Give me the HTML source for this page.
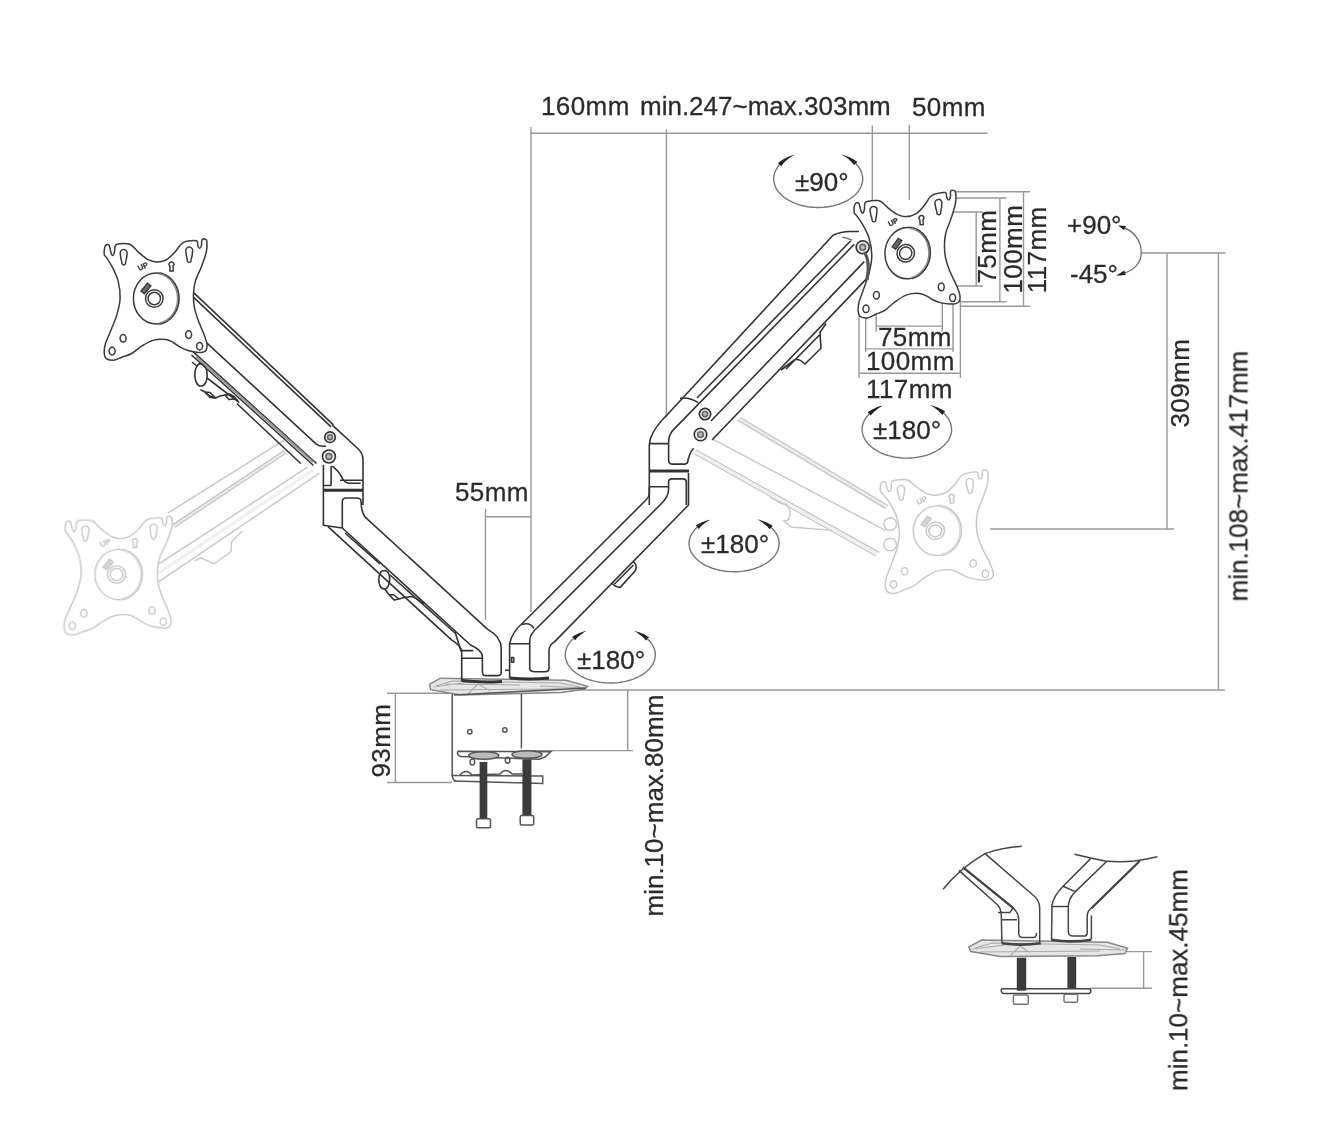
<!DOCTYPE html>
<html><head><meta charset="utf-8">
<style>
html,body{margin:0;padding:0;background:#fff;}
svg{display:block;}
text{font-family:"Liberation Sans",sans-serif;fill:#2a2a2a;}
</style></head>
<body>
<svg width="1332" height="1144" viewBox="0 0 1332 1144">
<defs><filter id="blr" x="0" y="0" width="1332" height="1144" filterUnits="userSpaceOnUse"><feGaussianBlur stdDeviation="0.65"/></filter><g id="plate"><path d="M9.2 24.5 C9.0 22.8 9.4 18.8 9.8 17.1 C10.2 15.5 10.9 15.0 11.6 14.7 C12.3 14.4 13.5 14.5 14.1 15.3 C14.7 16.1 14.9 18.0 15.3 19.6 C15.7 21.1 16.0 23.5 16.5 24.5 C17.0 25.4 17.8 25.6 18.3 25.1 C18.9 24.6 19.3 22.9 19.6 21.4 C19.9 19.9 19.7 17.1 20.2 15.9 C20.7 14.7 20.7 14.4 22.6 14.1 C24.6 13.7 29.5 13.5 31.8 13.7 C34.1 13.9 34.7 13.8 36.7 15.3 C38.7 16.8 41.4 20.3 44.0 22.6 C46.7 25.0 49.7 27.8 52.6 29.4 C55.5 30.9 58.1 31.9 61.2 32.0 C64.2 32.2 67.9 31.5 70.9 30.0 C74.0 28.4 77.1 25.2 79.5 22.6 C82.0 20.1 83.8 16.5 85.6 14.7 C87.5 12.8 87.9 12.3 90.5 11.6 C93.2 11.0 99.5 10.1 101.5 10.8 C103.6 11.5 102.2 14.6 102.8 15.9 C103.3 17.2 104.0 18.3 104.6 18.3 C105.2 18.3 106.0 17.3 106.4 15.9 C106.8 14.5 106.4 10.9 107.0 9.8 C107.6 8.7 109.3 8.9 110.1 9.2 C110.9 9.5 111.7 9.5 111.9 11.6 C112.1 13.8 112.2 17.8 111.3 22.0 C110.4 26.2 108.3 31.8 106.4 36.7 C104.6 41.6 101.6 46.9 100.3 51.4 C99.0 55.9 98.7 59.5 98.5 63.6 C98.3 67.7 98.4 71.6 99.1 75.8 C99.8 80.1 101.1 84.6 102.8 89.3 C104.4 94.0 107.3 99.9 108.9 104.0 C110.4 108.1 111.5 111.1 111.9 113.8 C112.3 116.4 112.0 118.5 111.3 119.9 C110.6 121.3 109.3 121.9 107.6 122.3 C106.0 122.7 104.0 122.6 101.5 122.3 C99.1 122.0 95.6 121.3 93.0 120.5 C90.3 119.7 88.1 118.8 85.6 117.4 C83.2 116.1 80.7 113.9 78.3 112.5 C75.8 111.2 74.2 109.9 70.9 109.5 C67.7 109.1 62.8 109.0 58.7 110.1 C54.6 111.2 50.2 114.0 46.5 116.2 C42.8 118.5 40.0 121.7 36.7 123.5 C33.4 125.4 30.0 126.1 26.9 127.2 C23.9 128.3 21.0 130.1 18.3 130.3 C15.7 130.5 12.5 129.8 11.0 128.4 C9.5 127.1 9.3 124.8 9.2 122.3 C9.1 119.9 9.3 117.4 10.4 113.8 C11.5 110.1 14.0 105.2 15.9 100.3 C17.8 95.4 20.5 89.7 22.0 84.4 C23.5 79.1 24.9 74.0 25.1 68.5 C25.3 63.0 24.6 56.7 23.2 51.4 C21.9 46.1 19.2 40.8 17.1 36.7 C15.1 32.6 12.3 29.0 11.0 26.9 C9.7 24.9 9.4 26.1 9.2 24.5Z"/><path d="M25.3 23.9 A3.5 3.5 0 1 1 32.1 23.9 Q31.9 27.9 30.5 32.4 A1.9 1.9 0 1 1 26.9 32.4 Q25.5 27.9 25.3 23.9Z M90.8 21.4 A3.5 3.5 0 1 1 97.6 21.4 Q97.4 25.4 96.0 29.9 A1.9 1.9 0 1 1 92.4 29.9 Q91.0 25.4 90.8 21.4Z"/><ellipse cx="28.1" cy="108.3" rx="3" ry="3.8"/><ellipse cx="17.1" cy="121.1" rx="3" ry="3.8"/><ellipse cx="93.6" cy="104.6" rx="3" ry="3.8"/><ellipse cx="104.6" cy="116.2" rx="3" ry="3.8"/><path d="M76.5 32.0 a2.6 2.6 0 0 1 2.6 2.6 l-1 1.5 v5 h-3.2 v-5 l-1 -1.5 a2.6 2.6 0 0 1 2.6 -2.6z"/><ellipse cx="61.2" cy="68.5" rx="22.8" ry="25.6"/><path d="M64.2 43.2 A22.5 25.6 0 0 1 64.2 93.8" stroke-width="2.8" stroke-opacity="0.6"/><circle cx="59.3" cy="68.5" r="8.8"/><circle cx="59.3" cy="68.5" r="6.2"/><path d="M45.9 61.2 l6.5 -8 l3.5 2.6 l-6.5 8z" stroke-width="1.4" style="fill:currentColor" fill-opacity="0.75"/><text x="0" y="0" transform="translate(44.3 41.0) rotate(-25)" font-size="7.5" font-weight="bold" style="fill:currentColor;stroke:currentColor;stroke-width:0.3">UP</text></g></defs>
<g filter="url(#blr)">
<g id="dim" stroke="#999" stroke-width="1.4" fill="none">
<path d="M530 133.3H987.5 M531 127V612 M666.4 129V417.5 M872.3 125.6V210 M909.3 125V200"/>
<path d="M485.5 509V620 M484.6 516.8H531"/>
<path d="M1141 253H1225.5 M1167 253V529 M990 529H1174 M1218.4 253V690.5 M560 690H1225"/>
<path d="M387 693.2H452 M387 782.5H452 M395.4 693V782.5 M523.6 750.6H633.3 M627.7 690V750.6"/>
<path d="M1126 951.6H1152 M1090 988.2H1152 M1143.6 951.6V988.2"/>
<path d="M953.7 191.8H1030 M956 198H1006.6 M942.4 212H983 M1023.5 191.8V306.2 M999.9 198V301.7 M976.2 212V286 M945 286H983 M955 301.7H1006.6 M960 306.2H1030"/>
<path d="M875.5 326.1H942.8 M876.2 292.6V331.7 M942.3 285V331.7 M865.7 348.9H953.8 M865.7 300V352 M953 300V352 M858.4 373.3H961.1 M859 315.8V378 M960.4 300V378"/>
</g>

<path d="M739 419 L886.5 507 M173.5 526 L285 452" stroke="#ececec" stroke-width="5" fill="none"/><path d="M695.5 452 L877.5 554 M159 572.7 L313 470" stroke="#f0f0f0" stroke-width="3" fill="none"/><g fill="none" stroke="#c8c8c8" stroke-width="1.4"><path d="M737.3 420 L885.5 508.3 M740.5 417.5 L888 505.5"/><path d="M712.1 438.9 L885.5 530.4"/><path d="M696.3 450 L879.2 552.4 M694.7 454 L876 556"/><path d="M770.4 497.2 L781 503.5 Q789 503 790 512 Q791 521 784 521 L791 527 L831.9 530.4"/><path d="M167.8 513.2 L283.8 440.4"/><path d="M172.3 525.1 L283.8 450.8 M175 527 L286 453"/><path d="M158.9 563.8 L307.6 467.2"/><path d="M158.9 581.6 L319.4 473.1"/><path d="M242.2 531.1 L231.7 541.5 L231 551.9 L213.9 563.8 L200.5 557.8 L194.6 560.8"/><circle cx="890.2" cy="524" r="6.3"/><circle cx="890.2" cy="544.5" r="6.3"/></g>
<path d="M429.5 684.3 L440.3 678.2 L566 680.3 L587.6 686.4 L584.9 689 L561.9 692.4 L460.5 695.1 L430.8 689.7Z" fill="#e6e6e6" stroke="#888" stroke-width="1.5"/><path d="M436 686 L452 681 L560 683 L580 687 M440 690 L560 689 M468 694 L478 684 L490 691 M433 687 L470 682 M540 686 L585 688 M445 684 L520 685" fill="none" stroke="#aaa" stroke-width="1.1"/><g fill="none" stroke="#555" stroke-width="1.5"><path d="M452.2 694 V775.5 Q452.5 780 456.2 781"/><path d="M521.4 694 V748.4"/><path d="M458 751.2 L550.8 751.7 L545 757 L539.1 759.3 L460.7 756.6 Q456 755 458 751.2Z"/><path d="M451.7 775.5 L542.7 776 L542.7 783.6 L453.5 781"/><path d="M460 775 Q466 768 472 775 L500 774 Q506 767 512 774 L522 774"/><path d="M454 695 L586 688"/><ellipse cx="483.7" cy="755.5" rx="15" ry="3.8" fill="#bbb"/><ellipse cx="527" cy="754.5" rx="15" ry="3.8" fill="#bbb"/><circle cx="469.8" cy="731.8" r="2.2"/><circle cx="504.8" cy="730" r="2.2"/><ellipse cx="472.4" cy="762" rx="2.3" ry="3.0"/><ellipse cx="507.6" cy="760.2" rx="2.3" ry="3.0"/><rect x="479.6" y="762" width="7.7" height="56.8" fill="#3a3a3a" stroke="none"/><rect x="522.4" y="759.3" width="9" height="56.8" fill="#3a3a3a" stroke="none"/><rect x="476.5" y="818.8" width="14" height="9" rx="1.5" fill="#fff"/><rect x="520.2" y="815.6" width="13.5" height="9.5" rx="1.5" fill="#fff"/></g>
<path d="M968.8 946.9 L981.6 940.1 L1107.3 942.2 L1127.6 948.2 L1124.9 953.6 L1097.8 955.7 L1000.5 956.4 L970.8 951.6Z" fill="#e6e6e6" stroke="#888" stroke-width="1.5"/><path d="M975 948 L992 943 L1100 945 L1120 949 M980 952 L1100 951 M1010 956 L1020 946 L1030 953 M972 949 L1005 945 M1080 949 L1125 950" fill="none" stroke="#aaa" stroke-width="1.1"/><g fill="none" stroke="#444" stroke-width="1.5" stroke-linejoin="round"><path d="M943.1 889.3 Q960 868 985.1 853.6 Q1000 848 1021.8 846.3"/><path d="M985.1 853.6 L1032.3 894.5 Q1039.7 900 1039.7 908 L1039.7 943"/><path d="M963.1 867.3 L1013.4 908.2 Q1018.7 913 1018.7 920 L1018.7 933 Q1018.7 937.6 1023 937.6 L1033 937.6 Q1036.5 937.6 1036.5 933"/><path d="M958.9 870.4 L997.7 905 Q1001 909 1001.3 915 L1001.9 943"/><path d="M998 912.4 H1010 L1013 908 M1001.5 919.7 H1017"/><path d="M1074.6 854.2 Q1090 858 1105 861 Q1120 862.5 1134.4 861 Q1148 859 1157.5 856.8"/><path d="M1090.4 858.9 L1063.1 886.2 Q1053.6 896 1052 905 L1051.5 940"/><path d="M1107.1 861 L1074.6 892.4 Q1068.3 899 1068.3 907 L1068.3 931.3 Q1068.3 936 1072.5 936 L1085 936 Q1087.2 936 1087.2 932.3 L1087.2 915.5 Q1088 910 1091.4 908.2"/><path d="M1091.4 908.2 L1139.7 861"/><path d="M1091.4 915.5 V939 M1051.5 906.6 H1068 M1063.1 886.2 L1074.6 891.4"/><path d="M1001.9 988.8 L1089.7 988.8 Q1092 991 1089.7 993.5 L1003 993.5 Q1000 991 1001.9 988.8Z"/><path d="M963.1 867.3 L1013.4 908.2" stroke-width="2.2"/><path d="M1139.7 861 L1091.4 908.2" stroke-width="2.2"/><path d="M1001.9 943.3 Q1021 946 1040.7 943.3 M1051.5 939.7 Q1071 943 1091.4 939.7" stroke-width="2.6"/><rect x="1016.8" y="957.7" width="9.4" height="33" fill="#3a3a3a" stroke="none"/><rect x="1067.4" y="957" width="8.8" height="31" fill="#3a3a3a" stroke="none"/><rect x="1013.4" y="994.9" width="14.8" height="9.4" rx="1.5" fill="#fff" stroke="#777"/><rect x="1064" y="994.2" width="13.6" height="8.1" rx="1.5" fill="#fff" stroke="#777"/></g>
<g fill="none" stroke="#333" stroke-width="1.6" stroke-linejoin="round"><path d="M193.6 292.6 L333.4 424.8"/><path d="M193.6 297.4 L331.1 426.9"/><path d="M206.2 342.4 L316 443.9 Q320 447 326 446"/><path d="M193 351.7 L316.5 463.5"/><path d="M191.5 355 L313.5 465.5"/><path d="M236.8 403.5 L300.7 463.5"/><path d="M207 378 L239.3 402.6"/><path d="M200.3 389.6 L205 392 L210 396 L215.7 398 L220 396 L225 395 L230 394.3 L234.6 397 L238.1 401.4"/><path d="M205 392 L210 392.5 L215.7 398 L210 397.5Z M225 395 L230 394.3 L234.6 399 L229 399.5Z"/><path d="M200.9 363.6 C209 364 209.5 386 200.9 386 C193 386 192.5 364 200.9 363.6Z"/><path d="M192 362 L197 366"/><path d="M332.3 425.2 L357.3 448 Q363 453 363 460 L363 505"/><path d="M323.4 464.7 L323.4 525.2 L342.3 528"/><path d="M331.1 466 V485.5 M323.4 485.5 H331.1 M332.3 466.1 Q339 471 342.5 478.6 Q345 483.2 350 483.2 L360.7 483.2 M340 480.3 H363"/><path d="M342.3 528 L470.5 645 Q482.4 650 482.4 657.3 L482.4 671.7 Q482.4 675.6 485.8 675.6 L497.3 675.6 Q501.2 675.6 501.2 672.7 L501.2 648 Q501.2 637 487.7 629.4 L364.9 516.8 Q361.2 511 361.2 503 L361 501 Q360.7 498 357 498 L346 498 Q342.3 498 342.3 502 L342.3 528"/><path d="M328 526.6 L451.5 639.9 Q461.7 646 461.7 652 L461.7 681"/><path d="M461.7 658.3 H482.4 M454.9 631.5 L460.8 650.6 H473.3"/><path d="M345 533 L380 564 M390 575 L455 633"/><path d="M384.2 570.5 C392 570 391 589 384.2 589 C377 589 377 570.5 384.2 570.5Z M385 589.5 L389 594.5 L394 600 L399 599 L404 597.5 L413 596.5 L424 603.5 M389 594.5 L394 595 L399 599 L394 600Z"/><path d="M833 235.3 Q841 231.5 850 231.5 L859 231.5"/><path d="M833 235.3 L667 415 Q649.6 432 649.3 445 L649.3 505"/><path d="M697 398 L850.8 240.7"/><path d="M854.3 244.2 L674.3 428.9 Q668.6 434 668.6 442 L668.6 459.5 Q668.6 464.1 672 464.1 L684.5 464.1 Q688 464.1 688 460 Q690 452 693.6 448.2"/><path d="M864.3 261.6 L711 421"/><path d="M867.9 277.4 L712 440"/><path d="M680 398.2 Q690 397 698.2 402.7"/><path d="M826 323.5 L820 332.4 L821 348.2 L805 364 Q799 358 794.4 360 L781 370 M819.5 335 L786 369"/><path d="M649.3 443.6 H668.6 M649.3 486.8 H668.6"/><path d="M649.3 486.8 V494 Q649 497 646 500 L522.7 623 Q512 632 509.6 643.8 V678"/><path d="M686.3 505 V482 Q686.3 478.9 683 478.9 L672 478.9 Q668.6 478.9 668.6 482 V489.1 Q668.6 497 661 504 L537.5 627.5 Q529.7 634 529.7 641 V668.3 Q529.7 671.8 535 671.8 L545 671.8 Q549 671.8 549 668 V650.8 Q549 645 554.2 642.1 L688.5 505 V473"/><path d="M509.6 643.8 H529.7 M522 624.5 Q530 622 534 628.5"/><path d="M511.5 657.5 h2.2 v4.8 h-2.2z M505 670.2 H510"/><path d="M633.3 561.7 Q637.5 565 635.5 570.5 L620.2 587.4 Q615.5 587.5 612.1 583.3 M633.5 565 L614.5 584"/><path d="M196 356.5 L313 462" stroke="#999" stroke-width="2.2"/><path d="M323.4 490.2 H363 M461.7 680.6 Q481 683 502 681.5 M649.3 471 H689 M509.6 678 Q530 680 549 678" stroke-width="3"/><circle cx="330" cy="437.2" r="5.3" fill="#e6e6e6"/><circle cx="330" cy="437.2" r="2.4" fill="#bbb" stroke="#666"/><circle cx="328.9" cy="456.5" r="6.5" fill="#e6e6e6"/><circle cx="328.9" cy="456.5" r="2.9" fill="#bbb" stroke="#666"/><circle cx="705" cy="414.1" r="5.7" fill="#e6e6e6"/><circle cx="705" cy="414.1" r="2.6" fill="#bbb" stroke="#666"/><circle cx="700.5" cy="434.5" r="6.3" fill="#e6e6e6"/><circle cx="700.5" cy="434.5" r="2.8" fill="#bbb" stroke="#666"/><circle cx="862.7" cy="247.3" r="6.5" fill="#e6e6e6"/><circle cx="862.7" cy="247.3" r="2.9" fill="#bbb" stroke="#666"/></g>
<g fill="#fff" stroke="#c8c8c8" color="#c8c8c8" stroke-width="1.4"><use href="#plate" transform="matrix(1.03961 0.01047 -0.01121 0.98458 55.83 506.39)"/><use href="#plate" transform="matrix(1.05141 -0.06530 0.05008 0.96833 869.59 468.27)"/></g><g fill="#fff" stroke="#3a3a3a" color="#3a3a3a" stroke-width="1.5"><use href="#plate" transform="matrix(1.00000 0.00000 -0.00000 1.00000 95.00 230.00)"/><use href="#plate" transform="matrix(0.99239 -0.07026 0.04077 0.99973 844.10 188.93)"/></g>
<g id="draw"></g>

<path d="M864.5 252 Q870.5 262 867 280" fill="none" stroke="#555" stroke-width="3.2"/><path d="M842.2 237.1 Q848 238 852 240.2" fill="none" stroke="#666" stroke-width="1.2"/>
<path d="M779.6 164.7 L778.5 166.0 L777.5 167.4 L776.6 168.8 L775.8 170.2 L775.2 171.6 L774.6 173.1 L774.2 174.6 L773.9 176.1 L773.7 177.6 L773.7 179.1 L773.8 180.6 L774.0 182.1 L774.3 183.6 L774.8 185.1 L775.3 186.6 L776.0 188.0 L776.8 189.5 L777.8 190.9 L778.8 192.2 L780.0 193.5 L781.2 194.8 L782.6 196.0 L784.0 197.2 L785.6 198.4 L787.2 199.4 L789.0 200.5 L790.8 201.4 L792.7 202.3 L794.6 203.2 L796.7 203.9 L798.8 204.6 L800.9 205.3 L803.1 205.8 L805.3 206.3 L807.6 206.7 L809.9 207.0 L812.2 207.2 L814.6 207.4 L816.9 207.5 L819.3 207.5 L821.6 207.4 L824.0 207.3 L826.3 207.0 L828.6 206.7 L830.9 206.3 L833.1 205.9 L835.3 205.3 L837.4 204.7 L839.5 204.0 L841.6 203.2 L843.5 202.4 L845.4 201.5 L847.3 200.6 L849.0 199.5 L850.6 198.5 L852.2 197.3 L853.7 196.2 L855.1 194.9 L856.3 193.7 L857.5 192.3 L858.5 191.0 L859.5 189.6 L860.3 188.2 L861.0 186.7 L861.6 185.3 L862.0 183.8 L862.4 182.3 L862.6 180.8 L862.7 179.3 L862.7 177.8 L862.5 176.3 L862.2 174.8 L861.8 173.3 L861.3 171.8 L860.7 170.3 L859.9 168.9 L859.0 167.5 L858.0 166.1 L856.9 164.8 L855.7 163.5" fill="none" stroke="#777" stroke-width="1.4"/>
<path d="M781.3 166.2 L782.4 164.6 L783.7 163.1 L785.1 161.6 L786.6 160.2 L788.4 158.8 L790.2 157.4 L792.2 156.2 L794.3 155.0 L794.1 154.7 L791.8 155.4 L789.6 156.2 L787.4 157.2 L785.3 158.2 L783.3 159.3 L781.4 160.5 L779.6 161.8 L777.9 163.2Z" fill="#222"/>
<path d="M854.1 165.1 L853.0 163.7 L851.8 162.3 L850.4 160.9 L848.9 159.6 L847.3 158.3 L845.6 157.1 L843.8 155.9 L841.8 154.8 L842.0 154.6 L844.1 155.2 L846.2 155.9 L848.2 156.7 L850.2 157.6 L852.1 158.6 L853.9 159.6 L855.6 160.7 L857.3 161.9Z" fill="#222"/>
<path d="M869.2 414.0 L868.0 415.4 L866.8 416.7 L865.8 418.1 L864.9 419.6 L864.1 421.0 L863.5 422.5 L862.9 424.0 L862.5 425.5 L862.3 427.1 L862.1 428.6 L862.1 430.1 L862.2 431.7 L862.5 433.2 L862.9 434.7 L863.4 436.2 L864.0 437.7 L864.8 439.2 L865.6 440.6 L866.6 442.0 L867.7 443.4 L869.0 444.7 L870.3 446.0 L871.8 447.3 L873.3 448.4 L875.0 449.6 L876.7 450.6 L878.5 451.6 L880.4 452.6 L882.4 453.5 L884.5 454.3 L886.6 455.0 L888.8 455.7 L891.0 456.3 L893.3 456.8 L895.6 457.2 L898.0 457.5 L900.4 457.8 L902.7 458.0 L905.2 458.1 L907.6 458.1 L910.0 458.0 L912.4 457.9 L914.8 457.6 L917.1 457.3 L919.5 456.9 L921.8 456.5 L924.0 455.9 L926.2 455.3 L928.4 454.6 L930.5 453.8 L932.5 452.9 L934.4 452.0 L936.3 451.0 L938.0 450.0 L939.7 448.9 L941.3 447.7 L942.8 446.5 L944.2 445.3 L945.5 443.9 L946.6 442.6 L947.7 441.2 L948.6 439.8 L949.4 438.3 L950.1 436.8 L950.7 435.3 L951.1 433.8 L951.4 432.3 L951.6 430.8 L951.6 429.2 L951.5 427.7 L951.3 426.1 L950.9 424.6 L950.5 423.1 L949.9 421.6 L949.1 420.1 L948.3 418.7 L947.3 417.3 L946.2 415.9 L945.0 414.6 L943.7 413.3" fill="none" stroke="#777" stroke-width="1.4"/>
<path d="M870.8 415.6 L871.8 414.3 L873.0 413.0 L874.3 411.7 L875.7 410.4 L877.2 409.2 L878.8 408.0 L880.5 406.9 L882.3 405.8 L882.1 405.5 L880.1 406.1 L878.1 406.8 L876.2 407.6 L874.4 408.4 L872.6 409.3 L870.8 410.3 L869.2 411.3 L867.6 412.4Z" fill="#222"/>
<path d="M942.2 414.9 L941.1 413.6 L939.9 412.4 L938.6 411.1 L937.2 409.9 L935.7 408.7 L934.1 407.6 L932.4 406.5 L930.6 405.4 L930.8 405.2 L932.8 405.7 L934.7 406.4 L936.6 407.1 L938.5 407.8 L940.3 408.7 L942.0 409.6 L943.6 410.6 L945.2 411.6Z" fill="#222"/>
<path d="M697.3 527.3 L695.9 528.5 L694.7 529.9 L693.6 531.2 L692.6 532.6 L691.7 534.1 L690.9 535.5 L690.3 537.0 L689.8 538.5 L689.4 540.0 L689.2 541.6 L689.1 543.1 L689.1 544.6 L689.3 546.2 L689.6 547.7 L690.0 549.2 L690.6 550.7 L691.3 552.2 L692.1 553.6 L693.0 555.0 L694.1 556.4 L695.3 557.8 L696.6 559.1 L698.0 560.3 L699.5 561.5 L701.1 562.7 L702.8 563.8 L704.6 564.8 L706.5 565.8 L708.5 566.7 L710.6 567.5 L712.7 568.3 L714.9 569.0 L717.1 569.6 L719.4 570.2 L721.7 570.6 L724.1 571.0 L726.5 571.3 L728.9 571.5 L731.4 571.6 L733.8 571.7 L736.3 571.7 L738.7 571.6 L741.2 571.4 L743.6 571.1 L745.9 570.7 L748.3 570.3 L750.6 569.7 L752.9 569.1 L755.0 568.5 L757.2 567.7 L759.3 566.9 L761.2 566.0 L763.2 565.0 L765.0 564.0 L766.7 562.9 L768.4 561.8 L769.9 560.6 L771.3 559.3 L772.7 558.0 L773.9 556.7 L774.9 555.3 L775.9 553.9 L776.8 552.5 L777.5 551.0 L778.1 549.5 L778.5 548.0 L778.8 546.5 L779.0 545.0 L779.1 543.4 L779.0 541.9 L778.8 540.4 L778.5 538.8 L778.0 537.3 L777.4 535.8 L776.7 534.4 L775.8 532.9 L774.8 531.5 L773.7 530.2 L772.5 528.8 L771.2 527.5" fill="none" stroke="#777" stroke-width="1.4"/>
<path d="M698.8 529.0 L699.8 527.7 L701.0 526.5 L702.2 525.3 L703.5 524.2 L705.0 523.1 L706.5 522.0 L708.1 520.9 L709.8 519.9 L709.6 519.7 L707.7 520.2 L705.9 520.8 L704.1 521.4 L702.3 522.1 L700.6 522.9 L698.9 523.7 L697.3 524.6 L695.8 525.6Z" fill="#222"/>
<path d="M769.7 529.2 L768.6 527.9 L767.4 526.6 L766.1 525.4 L764.6 524.2 L763.1 523.0 L761.5 521.9 L759.8 520.8 L757.9 519.7 L758.1 519.5 L760.1 520.0 L762.1 520.7 L764.0 521.4 L765.9 522.1 L767.7 523.0 L769.4 523.9 L771.1 524.8 L772.7 525.9Z" fill="#222"/>
<path d="M573.6 638.5 L572.2 639.8 L571.0 641.1 L569.9 642.4 L568.8 643.8 L567.9 645.3 L567.2 646.7 L566.5 648.2 L566.0 649.7 L565.7 651.2 L565.4 652.8 L565.3 654.3 L565.3 655.8 L565.5 657.4 L565.8 658.9 L566.2 660.4 L566.7 661.9 L567.4 663.4 L568.2 664.8 L569.2 666.2 L570.2 667.6 L571.4 669.0 L572.7 670.3 L574.1 671.5 L575.6 672.7 L577.2 673.9 L578.9 675.0 L580.7 676.0 L582.6 677.0 L584.6 677.9 L586.6 678.8 L588.7 679.6 L590.9 680.2 L593.2 680.9 L595.4 681.4 L597.8 681.9 L600.1 682.3 L602.5 682.6 L605.0 682.8 L607.4 682.9 L609.9 683.0 L612.3 683.0 L614.8 682.9 L617.2 682.7 L619.6 682.4 L622.0 682.0 L624.3 681.6 L626.6 681.1 L628.9 680.5 L631.1 679.8 L633.2 679.1 L635.3 678.2 L637.3 677.4 L639.2 676.4 L641.1 675.4 L642.8 674.3 L644.4 673.2 L646.0 672.0 L647.4 670.7 L648.8 669.4 L650.0 668.1 L651.1 666.7 L652.0 665.3 L652.9 663.9 L653.6 662.4 L654.2 660.9 L654.7 659.4 L655.0 657.9 L655.2 656.4 L655.3 654.8 L655.2 653.3 L655.0 651.8 L654.7 650.3 L654.2 648.7 L653.7 647.3 L652.9 645.8 L652.1 644.3 L651.1 642.9 L650.0 641.6 L648.8 640.2 L647.5 638.9" fill="none" stroke="#777" stroke-width="1.4"/>
<path d="M575.1 640.2 L576.1 639.0 L577.2 637.8 L578.4 636.7 L579.7 635.5 L581.1 634.4 L582.5 633.4 L584.0 632.3 L585.7 631.4 L585.5 631.1 L583.7 631.6 L581.9 632.2 L580.1 632.8 L578.4 633.5 L576.8 634.2 L575.2 635.0 L573.6 635.9 L572.1 636.8Z" fill="#222"/>
<path d="M646.0 640.6 L644.9 639.3 L643.7 638.0 L642.4 636.8 L640.9 635.5 L639.4 634.4 L637.8 633.2 L636.1 632.1 L634.2 631.1 L634.4 630.8 L636.4 631.4 L638.4 632.0 L640.3 632.7 L642.2 633.5 L644.0 634.3 L645.7 635.2 L647.4 636.2 L649.0 637.3Z" fill="#222"/>
<path d="M1124.5 228 C1133 231 1141.3 240 1141.3 252.8 C1141.3 263 1134 270 1124.5 273" fill="none" stroke="#777" stroke-width="1.4"/>
<path d="M1118 225.6 L1125.9 226 L1124.1 230.2Z M1116 275.8 L1125.9 274.9 L1124.2 270.6Z" fill="#222"/>
<g id="txt" font-size="26" style="fill:#353535;stroke:#353535;stroke-width:0.3">
<text x="541" y="115" letter-spacing="0.4">160mm</text>
<text x="640" y="115">min.247~max.303mm</text>
<text x="912" y="116" letter-spacing="0.4">50mm</text>
<text x="455" y="500.6" letter-spacing="0.4">55mm</text>
<text x="878" y="346.4" letter-spacing="0.4">75mm</text>
<text x="866" y="370.4" letter-spacing="0.4">100mm</text>
<text x="866" y="397.8" letter-spacing="0.4">117mm</text>
<text x="1067" y="234.2">+90°</text>
<text x="1070" y="282.7">-45°</text>
<text x="795" y="190.7">±90°</text>
<text x="873" y="439.4">±180°</text>
<text x="701" y="553.2">±180°</text>
<text x="577" y="669.4">±180°</text>
<text transform="translate(996 283.5) rotate(-90)" letter-spacing="0.4">75mm</text>
<text transform="translate(1021.5 293.5) rotate(-90)" letter-spacing="0.4">100mm</text>
<text transform="translate(1046 293.2) rotate(-90)" letter-spacing="0.4">117mm</text>
<text transform="translate(1188.5 427.5) rotate(-90)" letter-spacing="0.4">309mm</text>
<text transform="translate(1247.4 601.4) rotate(-90)">min.108~max.417mm</text>
<text transform="translate(389.5 777.5) rotate(-90)" letter-spacing="0.4">93mm</text>
<text transform="translate(663 916.5) rotate(-90)">min.10~max.80mm</text>
<text transform="translate(1187.3 1091) rotate(-90)">min.10~max.45mm</text>
</g>

</g>
</svg>
</body></html>
